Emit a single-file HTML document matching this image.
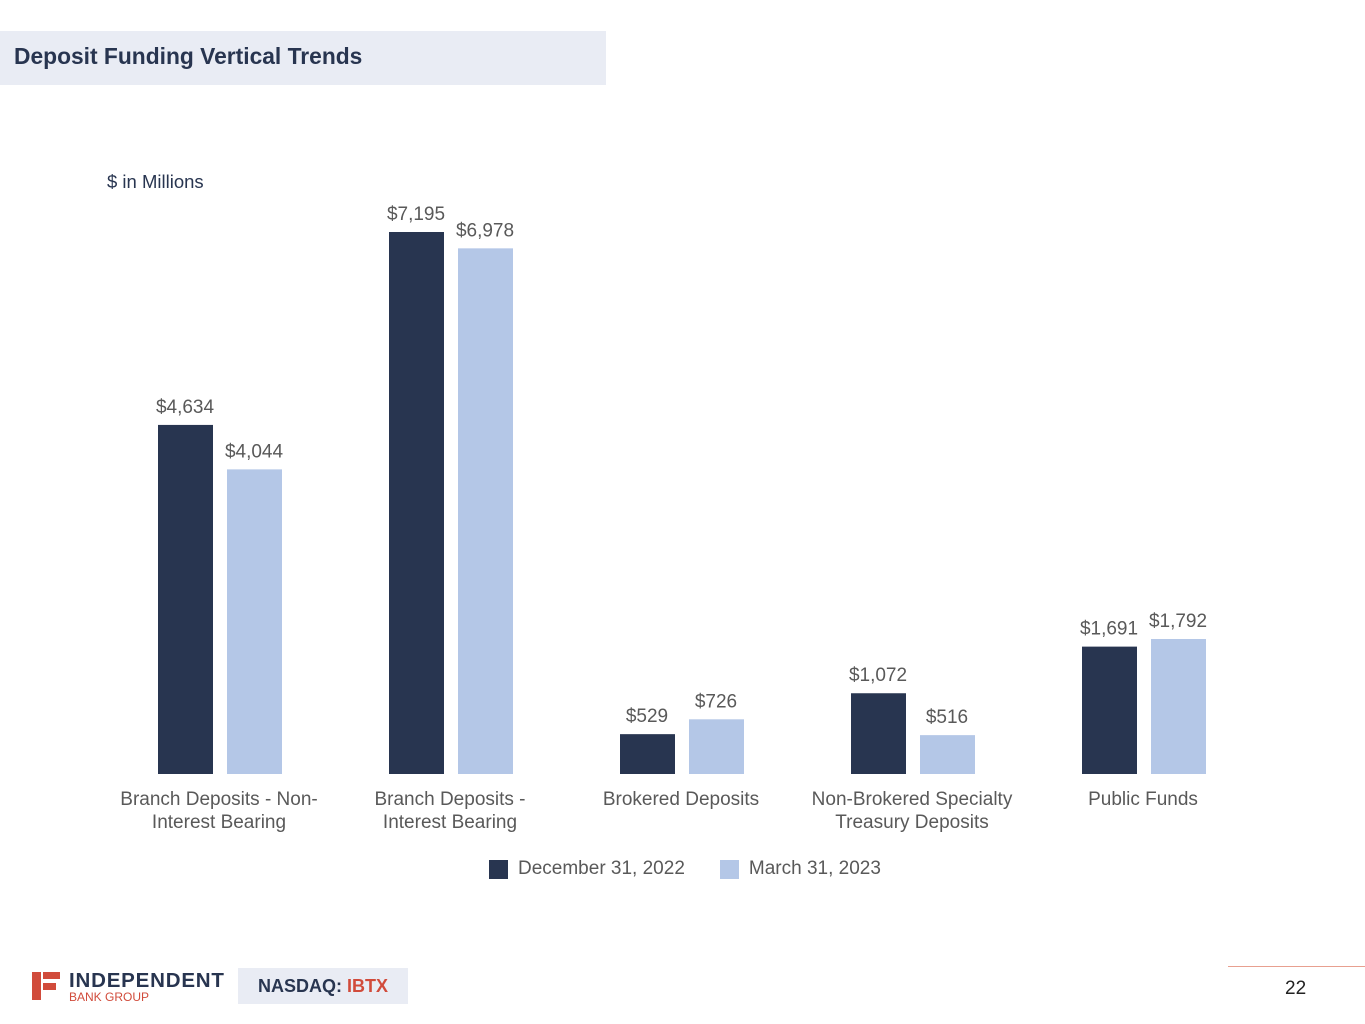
<!DOCTYPE html>
<html><head><meta charset="utf-8"><style>
body{margin:0;width:1365px;height:1024px;background:#fff;position:relative;overflow:hidden;font-family:"Liberation Sans",Arial,sans-serif}
.abs{position:absolute}
</style></head><body>
<div class="abs" style="left:0;top:31px;width:606px;height:54px;background:#e9ecf4"></div>
<div class="abs" style="left:14px;top:43px;font-size:22.8px;font-weight:bold;color:#283550">Deposit Funding Vertical Trends</div>
<div class="abs" style="left:107px;top:171px;font-size:18.5px;color:#283550">$ in Millions</div>
<svg class="abs" style="left:0;top:0" width="1365" height="1024" id="chart"></svg>
<div class="abs" style="left:489px;top:858px;font-size:19px;color:#595959;display:flex;align-items:center">
<span style="width:19px;height:19px;background:#283550;display:inline-block;margin-right:10px"></span><span>December 31, 2022</span>
<span style="width:19px;height:19px;background:#b4c7e7;display:inline-block;margin:0 10px 0 35px"></span><span>March 31, 2023</span>
</div>
<div class="abs" style="left:32px;top:972px;width:9px;height:28px;background:#d14b3b"></div>
<div class="abs" style="left:43px;top:972px;width:17px;height:7px;background:#d14b3b"></div>
<div class="abs" style="left:43px;top:983px;width:13px;height:7px;background:#d14b3b"></div>
<div class="abs" style="left:69px;top:969px;font-size:20.5px;font-weight:bold;color:#283550;letter-spacing:0.8px">INDEPENDENT</div>
<div class="abs" style="left:69px;top:990px;font-size:12px;color:#d14b3b">BANK GROUP</div>
<div class="abs" style="left:238px;top:968px;width:170px;height:36px;background:#e9ecf4;font-size:18px;font-weight:bold;color:#283550;line-height:36px;text-align:center">NASDAQ: <span style="color:#d14b3b">IBTX</span></div>
<div class="abs" style="left:1228px;top:966px;width:137px;height:1px;background:#e8a090"></div>
<div class="abs" style="left:1285px;top:978px;font-size:19px;color:#222">22</div>
<script>
const categories=[["Branch Deposits - Non-","Interest Bearing"],["Branch Deposits -","Interest Bearing"],["Brokered Deposits"],["Non-Brokered Specialty","Treasury Deposits"],["Public Funds"]];
const dec2022=[4634,7195,529,1072,1691];
const mar2023=[4044,6978,726,516,1792];
const svg=document.getElementById('chart');
const NS='http://www.w3.org/2000/svg';
const base=774, scale=542/7195;
const y=v=>base-v*scale;
const gx=i=>158+i*231;
function txt(x,yy,s,name){const t=document.createElementNS(NS,'text');t.setAttribute('x',x);t.setAttribute('y',yy);t.setAttribute('text-anchor','middle');t.setAttribute('font-size','19');t.setAttribute('fill','#595959');t.setAttribute('font-family','Liberation Sans, Arial, sans-serif');t.textContent=s;


svg.appendChild(t);}
const fmt=v=>'$'+v.toLocaleString('en-US');
[[dec2022,'#283550',0,'dec'],[mar2023,'#b4c7e7',69,'mar']].forEach(([arr,col,off,key])=>{
arr.forEach((v,i)=>{const r=document.createElementNS(NS,'rect');const x=gx(i)+off;
r.setAttribute('x',x);r.setAttribute('y',y(v));r.setAttribute('width',55);r.setAttribute('height',base-y(v));r.setAttribute('fill',col);


svg.appendChild(r);
txt(x+27,y(v)-12,fmt(v),'value-label-'+key+'-'+i);});});
categories.forEach((c,i)=>{c.forEach((l,j)=>txt(gx(i)+61,805+j*23,l,'category-label-'+i+'-'+j));});
</script>
</body></html>
